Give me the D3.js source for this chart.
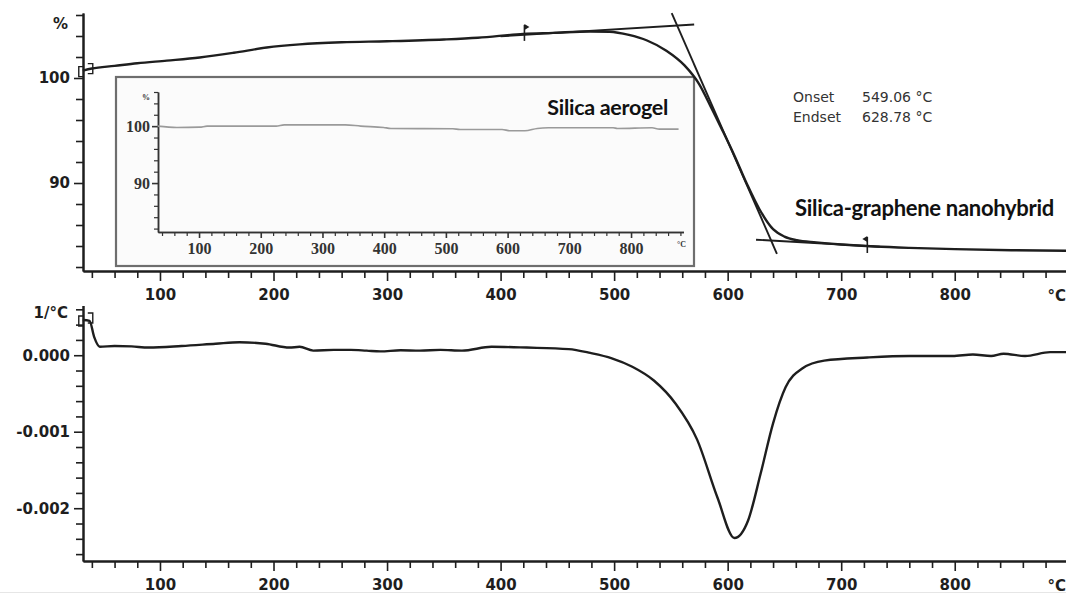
<!DOCTYPE html>
<html><head><meta charset="utf-8">
<script src="https://cdn.jsdelivr.net/npm/d3@7"></script>
<style>body{margin:0;background:#fff} svg{display:block}</style>
</head><body>
<svg id="c" width="1066" height="594"></svg>
<script>
// ---- data ----
const tgTemp = [32, 40, 60, 80, 106, 135, 165, 194, 223, 260, 300, 350, 380, 420, 446, 479, 496, 513, 529, 546, 562, 575, 585, 595, 606, 617, 628, 640, 650, 661, 678, 700, 730, 760, 800, 850, 898];
const tgMass = [100.7, 100.9, 101.15, 101.4, 101.65, 101.95, 102.4, 102.9, 103.2, 103.4, 103.5, 103.67, 103.83, 104.2, 104.3, 104.43, 104.4, 104.1, 103.57, 102.6, 101.2, 99.4, 97.3, 95.1, 92.6, 89.9, 87.5, 85.6, 84.9, 84.55, 84.35, 84.15, 83.95, 83.82, 83.7, 83.6, 83.55];
const dtgTemp = [32, 38, 42, 47, 60, 75, 90, 119, 149, 170, 193, 214, 223, 235, 253, 268, 282, 294, 312, 329, 347, 366, 392, 423, 460, 479, 498, 516, 535, 554, 573, 591, 606, 618, 629, 640, 651, 666, 685, 723, 760, 798, 816, 832, 843, 862, 884, 898];
const dtgRate = [0.00046, 0.00045, 0.00024, 0.00011, 0.00012, 0.000115, 0.0001, 0.00012, 0.00015, 0.00017, 0.00015, 0.0001, 0.00011, 0.00006, 0.00007, 0.00007, 0.00006, 0.00005, 0.000065, 0.00006, 0.00007, 0.00006, 0.00011, 0.0001, 0.00008, 0.00003, -0.00004, -0.00015, -0.00033, -0.00063, -0.0011, -0.00186, -0.00239, -0.00216, -0.00155, -0.00089, -0.00042, -0.00017, -0.00007, -0.00003, -0.00001, -0.00001, 0.00001, -0.00001, 0.00002, -0.00001, 0.00004, 0.00004];
const insetTemp = [33, 64, 101, 113, 225, 238, 337, 362, 399, 411, 511, 523, 591, 604, 628, 648, 666, 771, 778, 834, 846, 877];
const insetMass = [100, 99.77, 99.82, 100, 100, 100.23, 100.23, 100, 99.77, 99.59, 99.53, 99.42, 99.42, 99.18, 99.18, 99.59, 99.71, 99.71, 99.59, 99.71, 99.47, 99.47];
const xMajorTicks = [100, 200, 300, 400, 500, 600, 700, 800];
const xMinorTicks = d3.range(40, 881, 20).filter(t => t % 100 !== 0);
const topYMajor = [90, 100];
const topYMinor = [82, 84, 86, 88, 92, 94, 96, 98, 102, 104, 106];
const botYMajor = [0, -0.001, -0.002];
const botYMinor = [0.0006, 0.0004, 0.0002, -0.0002, -0.0004, -0.0006, -0.0008, -0.0012, -0.0014, -0.0016, -0.0018, -0.0022, -0.0024, -0.0026];
const insetXMajor = [100, 200, 300, 400, 500, 600, 700, 800];
const insetXMinor = d3.range(40, 881, 20).filter(t => t % 100 !== 0);
const insetYMajor = [90, 100];
const insetYMinor = [82, 84, 86, 88, 92, 94, 96, 98, 102, 104, 106];
const tangentBase = [[400, 103.97], [570.5, 105.1]];
const tangentSteep = [[550.7, 106.17], [643.4, 83.26]];
const tangentEnd = [[625, 84.6], [734, 83.93]];
const flagPoints = [[421, 104.2, 1], [723, 84.0, -1]];
const resultLabels = [["Onset", "549.06 °C"], ["Endset", "628.78 °C"]];

// ---- drawing ----
const svg = d3.select("#c");
const ink = "#1e1e1e";
const x = d3.scaleLinear().domain([32.2, 898]).range([83, 1066]);
const yTop = d3.scaleLinear().domain([81.62, 106.2]).range([271, 12.9]);
const yBot = d3.scaleLinear().domain([-0.00269, 0.00065]).range([561, 305.5]);
const xi = d3.scaleLinear().domain([33.5, 885]).range([158, 683.5]);
const yi = d3.scaleLinear().domain([81.4, 106]).range([232, 92]);

const lblFont = "'DejaVu Sans', Verdana, sans-serif";

function styleAxis(g, color, w) {
  g.selectAll("path.domain").attr("stroke", color).attr("stroke-width", w);
  g.selectAll(".tick line").attr("stroke", color).attr("stroke-width", 1.6);
}

function mainAxes(yScale, yMajor, yMinor, yFmt, axisY) {
  const gy = svg.append("g").attr("transform", "translate(83,0)");
  gy.call(d3.axisLeft(yScale).tickValues(yMinor).tickSize(7).tickFormat("").tickSizeOuter(0));
  styleAxis(gy, ink, 2);
  const gy2 = svg.append("g").attr("transform", "translate(83,0)");
  gy2.call(d3.axisLeft(yScale).tickValues(yMajor).tickSize(9).tickPadding(4).tickFormat(yFmt).tickSizeOuter(0));
  styleAxis(gy2, ink, 2);
  gy2.selectAll("text").attr("font-family", lblFont).attr("font-weight", "bold").attr("font-size", 15).attr("fill", ink);
  const gx = svg.append("g").attr("transform", `translate(0,${axisY})`);
  gx.call(d3.axisBottom(x).tickValues(xMinorTicks).tickSize(7).tickFormat("").tickSizeOuter(0));
  styleAxis(gx, ink, 2.2);
  const gx2 = svg.append("g").attr("transform", `translate(0,${axisY})`);
  gx2.call(d3.axisBottom(x).tickValues(xMajorTicks).tickSize(10).tickPadding(8).tickFormat(d3.format("d")).tickSizeOuter(0));
  styleAxis(gx2, ink, 2.2);
  gx2.selectAll("text").attr("font-family", lblFont).attr("font-weight", "bold").attr("font-size", 15).attr("fill", ink);
  svg.append("text").attr("x", 1066).attr("y", axisY + 30).attr("text-anchor", "end")
    .attr("font-family", lblFont).attr("font-weight", "bold").attr("font-size", 15).attr("fill", ink).text("°C");
}

mainAxes(yTop, topYMajor, topYMinor, d3.format("d"), 271);
mainAxes(yBot, botYMajor, botYMinor, d => d.toFixed(3).replace("-0.000", "0.000"), 561);

svg.append("text").attr("x", 68).attr("y", 29).attr("text-anchor", "end")
  .attr("font-family", lblFont).attr("font-weight", "bold").attr("font-size", 15).attr("fill", ink).text("%");
svg.append("text").attr("x", 68).attr("y", 318).attr("text-anchor", "end")
  .attr("font-family", lblFont).attr("font-weight", "bold").attr("font-size", 15).attr("fill", ink).text("1/°C");

// ---- inset ----
svg.append("rect").attr("x", 116).attr("y", 77).attr("width", 578).attr("height", 189)
  .attr("fill", "#fbfbfb").attr("stroke", "#6e6e6e").attr("stroke-width", 2.2);
const serif = "'Liberation Serif', 'Times New Roman', serif";
const icol = "#333";
const giy = svg.append("g").attr("transform", "translate(158,0)");
giy.call(d3.axisLeft(yi).tickValues(insetYMinor).tickSize(4).tickFormat("").tickSizeOuter(0));
styleAxis(giy, icol, 1.5);
giy.selectAll(".tick line").attr("stroke-width", 1.2);
const giy2 = svg.append("g").attr("transform", "translate(158,0)");
giy2.call(d3.axisLeft(yi).tickValues(insetYMajor).tickSize(6).tickPadding(2).tickFormat(d3.format("d")).tickSizeOuter(0));
styleAxis(giy2, icol, 1.5);
giy2.selectAll("text").attr("font-family", serif).attr("font-weight", "bold").attr("font-size", 16).attr("fill", icol);
const gix = svg.append("g").attr("transform", "translate(0,232)");
gix.call(d3.axisBottom(xi).tickValues(insetXMinor).tickSize(4).tickFormat("").tickSizeOuter(0));
styleAxis(gix, icol, 1.6);
gix.selectAll(".tick line").attr("stroke-width", 1.2);
const gix2 = svg.append("g").attr("transform", "translate(0,232)");
gix2.call(d3.axisBottom(xi).tickValues(insetXMajor).tickSize(6).tickPadding(5).tickFormat(d3.format("d")).tickSizeOuter(0));
styleAxis(gix2, icol, 1.6);
gix2.selectAll("text").attr("font-family", serif).attr("font-weight", "bold").attr("font-size", 16).attr("fill", icol);
svg.append("text").attr("x", 150).attr("y", 100).attr("text-anchor", "end")
  .attr("font-family", serif).attr("font-weight", "bold").attr("font-size", 8).attr("fill", icol).text("%");
svg.append("text").attr("x", 686).attr("y", 247).attr("text-anchor", "end")
  .attr("font-family", serif).attr("font-weight", "bold").attr("font-size", 8).attr("fill", icol).text("°C");
svg.append("path")
  .attr("d", d3.line().x((d, i) => xi(insetTemp[i])).y(d => yi(d)).curve(d3.curveMonotoneX)(insetMass))
  .attr("fill", "none").attr("stroke", "#9a9a9a").attr("stroke-width", 1.6);
svg.append("text").attr("x", 668).attr("y", 115).attr("text-anchor", "end")
  .attr("font-family", "Lato, sans-serif").attr("font-weight", "bold").attr("font-size", 21.5)
  .attr("letter-spacing", -0.3).attr("fill", "#111").text("Silica aerogel");

// ---- tangents ----
const lineTop = d3.line().x(d => x(d[0])).y(d => yTop(d[1]));
[tangentBase, tangentSteep, tangentEnd].forEach(t => {
  svg.append("path").attr("d", lineTop(t)).attr("fill", "none").attr("stroke", ink).attr("stroke-width", 1.9);
});

// ---- TG curve ----
svg.append("path")
  .attr("d", d3.line().x((d, i) => x(tgTemp[i])).y(d => yTop(d)).curve(d3.curveMonotoneX)(tgMass))
  .attr("fill", "none").attr("stroke", ink).attr("stroke-width", 2.4);

flagPoints.forEach(([t, v, dir]) => {
  const px = x(t), py = yTop(v);
  svg.append("path").attr("d", `M${px},${py - 9}V${py + 7}`).attr("stroke", ink).attr("stroke-width", 1.6);
  svg.append("path").attr("d", `M${px},${py - 10}L${px + 5 * dir},${py - 7}L${px},${py - 4}Z`).attr("fill", ink);
});

// ---- DTG curve ----
svg.append("path")
  .attr("d", d3.line().x((d, i) => x(dtgTemp[i])).y(d => yBot(d)).curve(d3.curveMonotoneX)(dtgRate))
  .attr("fill", "none").attr("stroke", ink).attr("stroke-width", 2.4);

function brackets(px, py) {
  svg.append("path").attr("d", `M${px + 1},${py - 4}H${px - 4}V${py + 6}H${px + 1}`)
    .attr("fill", "none").attr("stroke", ink).attr("stroke-width", 1.4);
  svg.append("path").attr("d", `M${px + 5},${py - 7}H${px + 10}V${py + 3}H${px + 5}`)
    .attr("fill", "none").attr("stroke", ink).attr("stroke-width", 1.4);
}
brackets(x(tgTemp[0]), yTop(tgMass[0]));
brackets(x(dtgTemp[0]), yBot(dtgRate[0]));

resultLabels.forEach(([a, b], i) => {
  svg.append("text").attr("x", 793).attr("y", 102 + i * 20).attr("font-family", lblFont)
    .attr("font-size", 14).attr("fill", "#333").text(a);
  svg.append("text").attr("x", 862).attr("y", 102 + i * 20).attr("font-family", lblFont)
    .attr("font-size", 14).attr("fill", "#333").text(b);
});
svg.append("text").attr("x", 795).attr("y", 216)
  .attr("font-family", "Lato, sans-serif").attr("font-weight", "bold").attr("font-size", 22)
  .attr("letter-spacing", -0.3).attr("fill", "#111").text("Silica-graphene nanohybrid");

svg.append("line").attr("x1", 0).attr("x2", 1066).attr("y1", 592.5).attr("y2", 592.5)
  .attr("stroke", "#e6e6e6").attr("stroke-width", 1);
</script>
</body></html>
